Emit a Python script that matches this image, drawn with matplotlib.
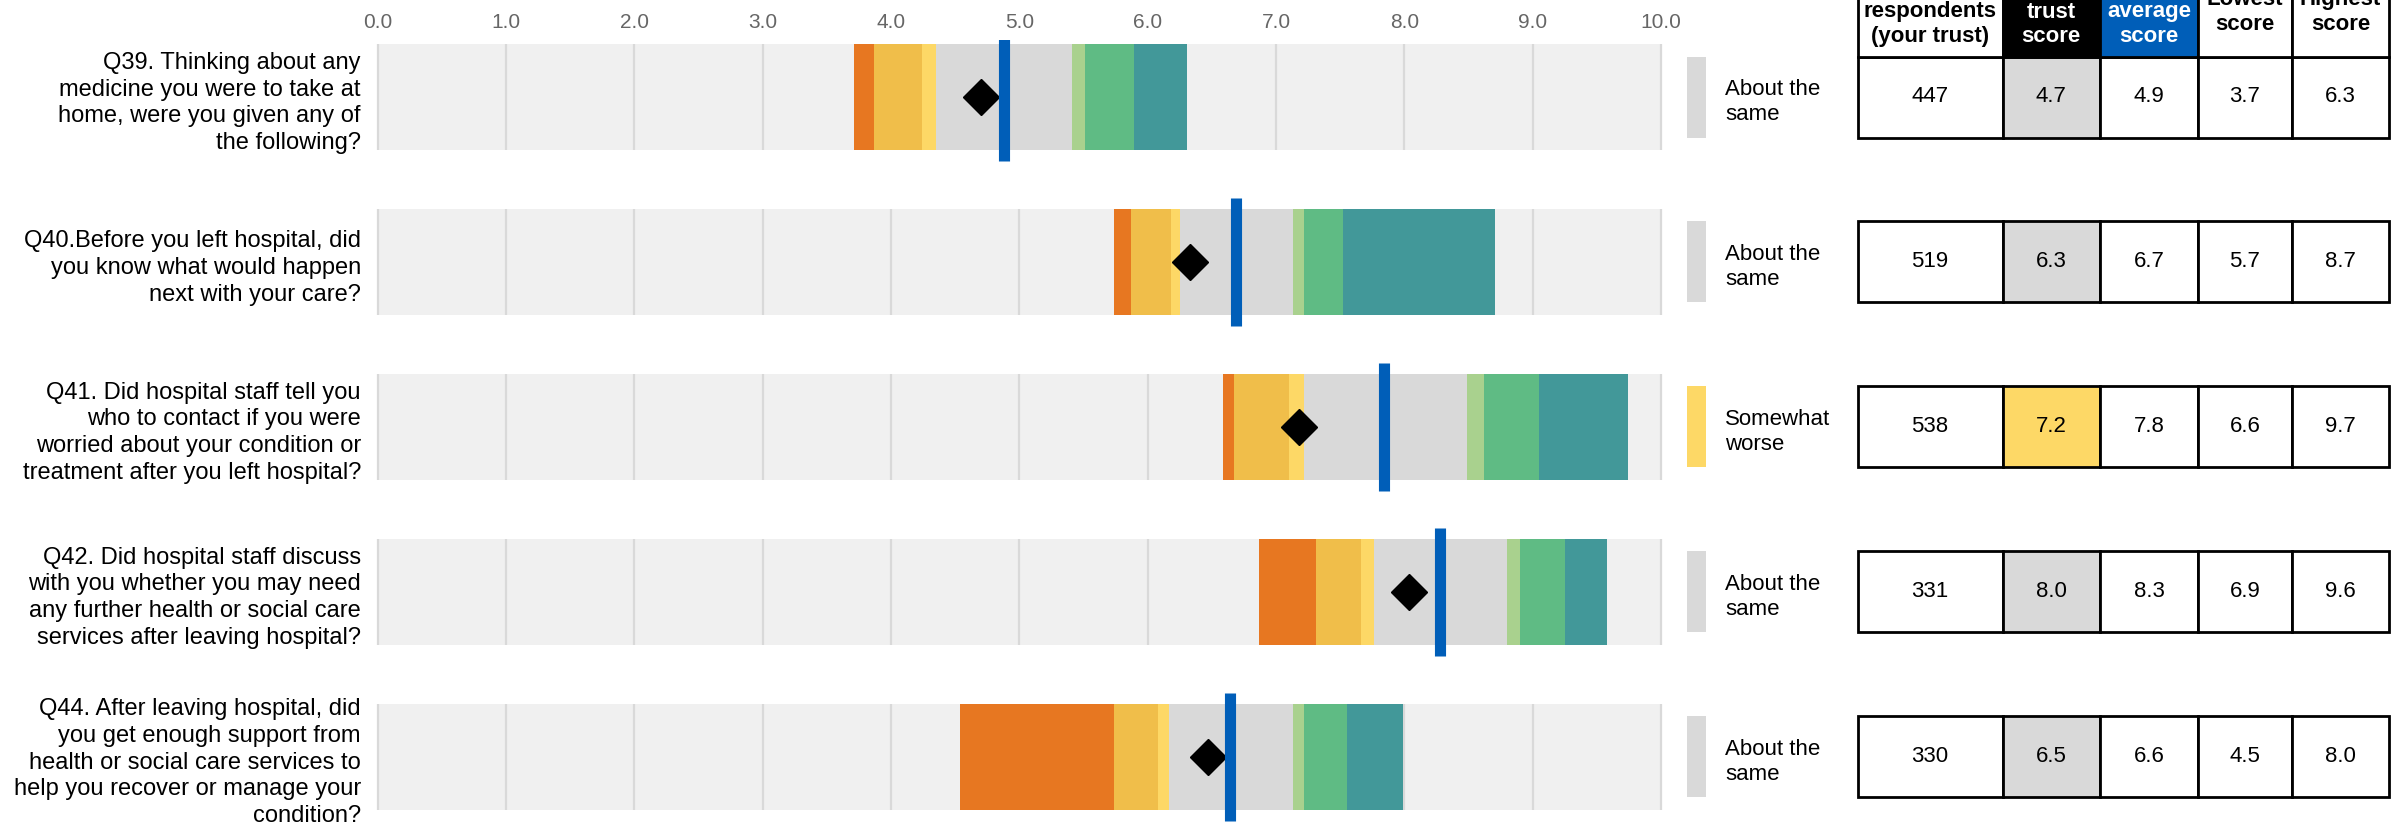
import matplotlib
matplotlib.use("Agg")
import matplotlib.pyplot as plt
import matplotlib.transforms as mtransforms
from matplotlib.patches import Rectangle
import numpy as np

plt.rcParams['font.family'] = ['Liberation Sans', 'DejaVu Sans']

# ---------------- data ----------------
questions = [
    "Q39. Thinking about any\nmedicine you were to take at\nhome, were you given any of\nthe following?",
    "Q40.Before you left hospital, did\nyou know what would happen\nnext with your care?",
    "Q41. Did hospital staff tell you\nwho to contact if you were\nworried about your condition or\ntreatment after you left hospital?",
    "Q42. Did hospital staff discuss\nwith you whether you may need\nany further health or social care\nservices after leaving hospital?",
    "Q44. After leaving hospital, did\nyou get enough support from\nhealth or social care services to\nhelp you recover or manage your\ncondition?",
]
lowest              = [3.71, 5.74, 6.59, 6.87, 4.54]
much_worse_end      = [3.87, 5.87, 6.67, 7.31, 5.74]
worse_end           = [4.24, 6.18, 7.10, 7.66, 6.08]
somewhat_worse_end  = [4.35, 6.25, 7.22, 7.76, 6.17]
same_end            = [5.41, 7.13, 8.49, 8.80, 7.13]
somewhat_better_end = [5.51, 7.22, 8.62, 8.90, 7.22]
better_end          = [5.89, 7.52, 9.05, 9.25, 7.55]
highest             = [6.31, 8.71, 9.74, 9.58, 7.99]
trust_score   = [4.70, 6.33, 7.18, 8.04, 6.47]
average_score = [4.88, 6.69, 7.84, 8.28, 6.64]
respondents   = [447, 519, 538, 331, 330]
comparison    = ["About the\nsame", "About the\nsame", "Somewhat\nworse",
                 "About the\nsame", "About the\nsame"]
x_ticks = [0, 1, 2, 3, 4, 5, 6, 7, 8, 9, 10]
table_headers = ["Number of\nrespondents\n(your trust)", "Your\ntrust\nscore",
                 "Trust\naverage\nscore", "Lowest\nscore", "Highest\nscore"]

# ---------------- style ----------------
band_colors = ["#e77721", "#f0be4a", "#fdd866", "#d9d9d9", "#a9d18e", "#5fbb84", "#429899"]
comp_colors = {"About the\nsame": "#d9d9d9", "Somewhat\nworse": "#fdd866"}
bg_color = "#f0f0f0"
grid_color = "#d9d9d9"
nhs_blue = "#005eb8"

W, H = 2407, 836
DPI = 100
ax_left_px, ax_right_px, ax_top_px = 377.6, 1661.0, 40.0
row0_px, row_pitch, bar_h_px = 97.0, 164.9, 106.0

fig = plt.figure(figsize=(W / DPI, H / DPI), dpi=DPI)
ax = fig.add_axes([ax_left_px / W, 0, (ax_right_px - ax_left_px) / W, (H - ax_top_px) / H])


def down(px):
    return mtransforms.ScaledTranslation(0, -px / DPI, fig.dpi_scale_trans)


rows = np.arange(len(questions))
bh = bar_h_px / row_pitch
ytop = -(row0_px - ax_top_px) / row_pitch
ybot = ytop + (H - ax_top_px) / row_pitch

# background bars
ax.barh(rows, x_ticks[-1] - x_ticks[0], left=x_ticks[0], height=bh, color=bg_color, zorder=0)
# grid lines only inside bars
for r in rows:
    ax.vlines(x_ticks, r - bh / 2, r + bh / 2, color=grid_color, lw=1.6, zorder=1, clip_on=False)

edges = [lowest, much_worse_end, worse_end, somewhat_worse_end, same_end,
         somewhat_better_end, better_end, highest]
for k, col in enumerate(band_colors):
    s = np.array(edges[k]); e = np.array(edges[k + 1])
    ax.barh(rows, e - s, left=s, height=bh, color=col, zorder=2, linewidth=0)

ax.plot(trust_score, rows, linestyle="none", marker="D", color="black",
        markersize=18, zorder=3)
ext = 11 / row_pitch
ax.vlines(average_score, rows - bh / 2 - ext, rows + bh / 2 + ext, color=nhs_blue,
          lw=8, zorder=4, capstyle="butt")

ax.set_xlim(x_ticks[0], x_ticks[-1])
ax.set_ylim(ybot, ytop)
ax.xaxis.tick_top()
ax.set_xticks(x_ticks, [f"{t:.1f}" for t in x_ticks])
ax.tick_params(axis="x", length=0, pad=6, labelsize=15, labelcolor="#666666")
ax.set_yticks(rows, questions)
ax.tick_params(axis="y", length=0, pad=12, labelsize=17, labelcolor="black")
for lab in ax.get_yticklabels():
    lab.set_va("center")
    lab.set_linespacing(1.28)
    lab.set_transform(lab.get_transform() + down(6))
for s in ax.spines.values():
    s.set_visible(False)

# ---------------- legend swatches + table ----------------
tx0 = 1662
tab = fig.add_axes([tx0 / W, 0, (W - tx0) / W, (H - ax_top_px) / H])
tab.set_xlim(tx0, W)
tab.set_ylim(ybot, ytop)
tab.axis("off")

cell_h = 81 / row_pitch
col_edges = [1857.6, 2002.5, 2100.0, 2198.0, 2292.0, 2389.0]
for i, r in enumerate(rows):
    ccol = comp_colors[comparison[i]]
    tab.add_patch(Rectangle((1687, r - cell_h / 2), 19, cell_h, color=ccol, lw=0, clip_on=False))
    tab.text(1725, r, comparison[i], ha="left", va="center", fontsize=16, linespacing=1.24,
             transform=tab.transData + down(5))
    vals = [f"{respondents[i]}", f"{trust_score[i]:.1f}", f"{average_score[i]:.1f}",
            f"{lowest[i]:.1f}", f"{highest[i]:.1f}"]
    for j in range(5):
        fc = ccol if j == 1 else "white"
        tab.add_patch(Rectangle((col_edges[j], r - cell_h / 2), col_edges[j + 1] - col_edges[j],
                                cell_h, facecolor=fc, edgecolor="black", lw=2, clip_on=False,
                                zorder=2))
        tab.text((col_edges[j] + col_edges[j + 1]) / 2, r, vals[j], ha="center", va="center",
                 fontsize=16, zorder=3)

# header row above first table row
head_h = 110 / row_pitch
head_bottom = rows[0] - cell_h / 2
head_fc = ["white", "black", nhs_blue, "white", "white"]
head_tc = ["black", "white", "white", "black", "black"]
head_center = (9 - row0_px) / row_pitch
for j in range(5):
    tab.add_patch(Rectangle((col_edges[j], head_bottom - head_h), col_edges[j + 1] - col_edges[j],
                            head_h, facecolor=head_fc[j], edgecolor="black", lw=2, clip_on=False,
                            zorder=2))
    tab.text((col_edges[j] + col_edges[j + 1]) / 2, head_center, table_headers[j], ha="center",
             va="center", fontsize=16, fontweight="bold", color=head_tc[j], clip_on=False,
             linespacing=1.24, zorder=3, transform=tab.transData + down(3))

fig.savefig("out.png", dpi=DPI)
